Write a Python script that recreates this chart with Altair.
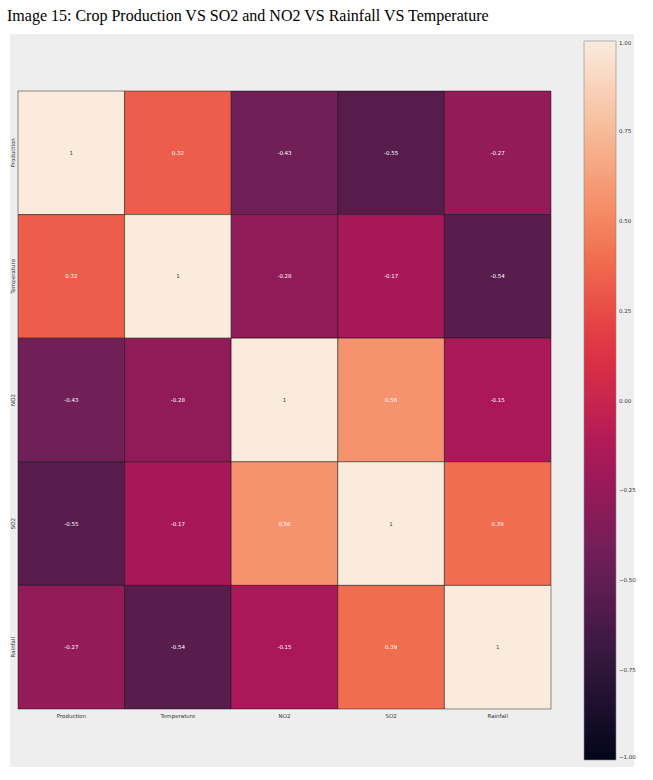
import altair as alt
import pandas as pd

variables = ["Production", "Temperature", "NO2", "SO2", "Rainfall"]
row_production = [1.0, 0.32, -0.43, -0.55, -0.27]
row_temperature = [0.32, 1.0, -0.28, -0.17, -0.54]
row_no2 = [-0.43, -0.28, 1.0, 0.56, -0.15]
row_so2 = [-0.55, -0.17, 0.56, 1.0, 0.39]
row_rainfall = [-0.27, -0.54, -0.15, 0.39, 1.0]
colorbar_ticks = [-1.0, -0.75, -0.5, -0.25, 0.0, 0.25, 0.5, 0.75, 1.0]

rows = [row_production, row_temperature, row_no2, row_so2, row_rainfall]
records = []
for rname, vals in zip(variables, rows):
    for cname, v in zip(variables, vals):
        records.append({"row": rname, "col": cname, "value": v, "label": f"{v:.2g}"})
df = pd.DataFrame(records)

rocket_domain = [-1.0, -1 + 2 / 7, -1 + 4 / 7, -1 + 6 / 7, -1 + 8 / 7, -1 + 10 / 7, -1 + 12 / 7, 1.0]
rocket_range = ["#03051a", "#35193e", "#701f57", "#ad1759", "#e13342", "#f37651", "#f6b48f", "#faebdd"]

W, H = 533, 618
font = "DejaVu Sans"

bg = alt.Chart(pd.DataFrame({"a": [0]})).mark_rect(color="#eeeeee").encode(
    x=alt.value(-8), x2=alt.value(616), y=alt.value(-57), y2=alt.value(676)
)

base = alt.Chart(df).encode(
    x=alt.X("col:N", sort=variables, title=None,
            axis=alt.Axis(labelAngle=0, labelFontSize=5.5, labelColor="#333333", labelFont=font,
                          domain=False, ticks=False, labelPadding=4)),
    y=alt.Y("row:N", sort=variables, title=None,
            axis=alt.Axis(labelAngle=270, labelFontSize=5.5, labelColor="#333333", labelFont=font,
                          domain=False, ticks=False, labelPadding=3, labelAlign="center",
                          labelBaseline="bottom")),
)

cells = base.mark_rect(stroke="#000000", strokeWidth=0.8, strokeOpacity=0.55).encode(
    color=alt.Color("value:Q",
                    scale=alt.Scale(domain=rocket_domain, range=rocket_range, interpolate="rgb"),
                    legend=alt.Legend(orient="none", legendX=566, legendY=-50, direction="vertical",
                                      gradientLength=719, gradientThickness=32, title=None,
                                      values=colorbar_ticks, format=".2f", labelFontSize=5.5,
                                      labelFont=font, labelColor="#333333", labelOffset=3,
                                      gradientStrokeColor="#888888", gradientStrokeWidth=0.6,
                                      labelOverlap=False))
)

text = base.mark_text(fontSize=5.5, font=font).encode(
    text="label:N",
    color=alt.condition("datum.value > 0.7", alt.value("#444444"), alt.value("#ffffff")),
)

chart = alt.layer(bg, cells, text).properties(
    width=W, height=H,
    autosize=alt.AutoSizeParams(type="none"),
    padding={"left": 18, "top": 91, "right": 102, "bottom": 71},
    title=alt.TitleParams("Image 15: Crop Production VS SO2 and NO2 VS Rainfall VS Temperature",
                          anchor="start", frame="group", dx=-11, offset=10, fontSize=16,
                          font="Liberation Serif", fontWeight="normal", color="#000000"),
).configure_view(stroke=None).configure(background="#ffffff")

chart.save("out.html", embed_options={"renderer": "svg", "actions": False})
